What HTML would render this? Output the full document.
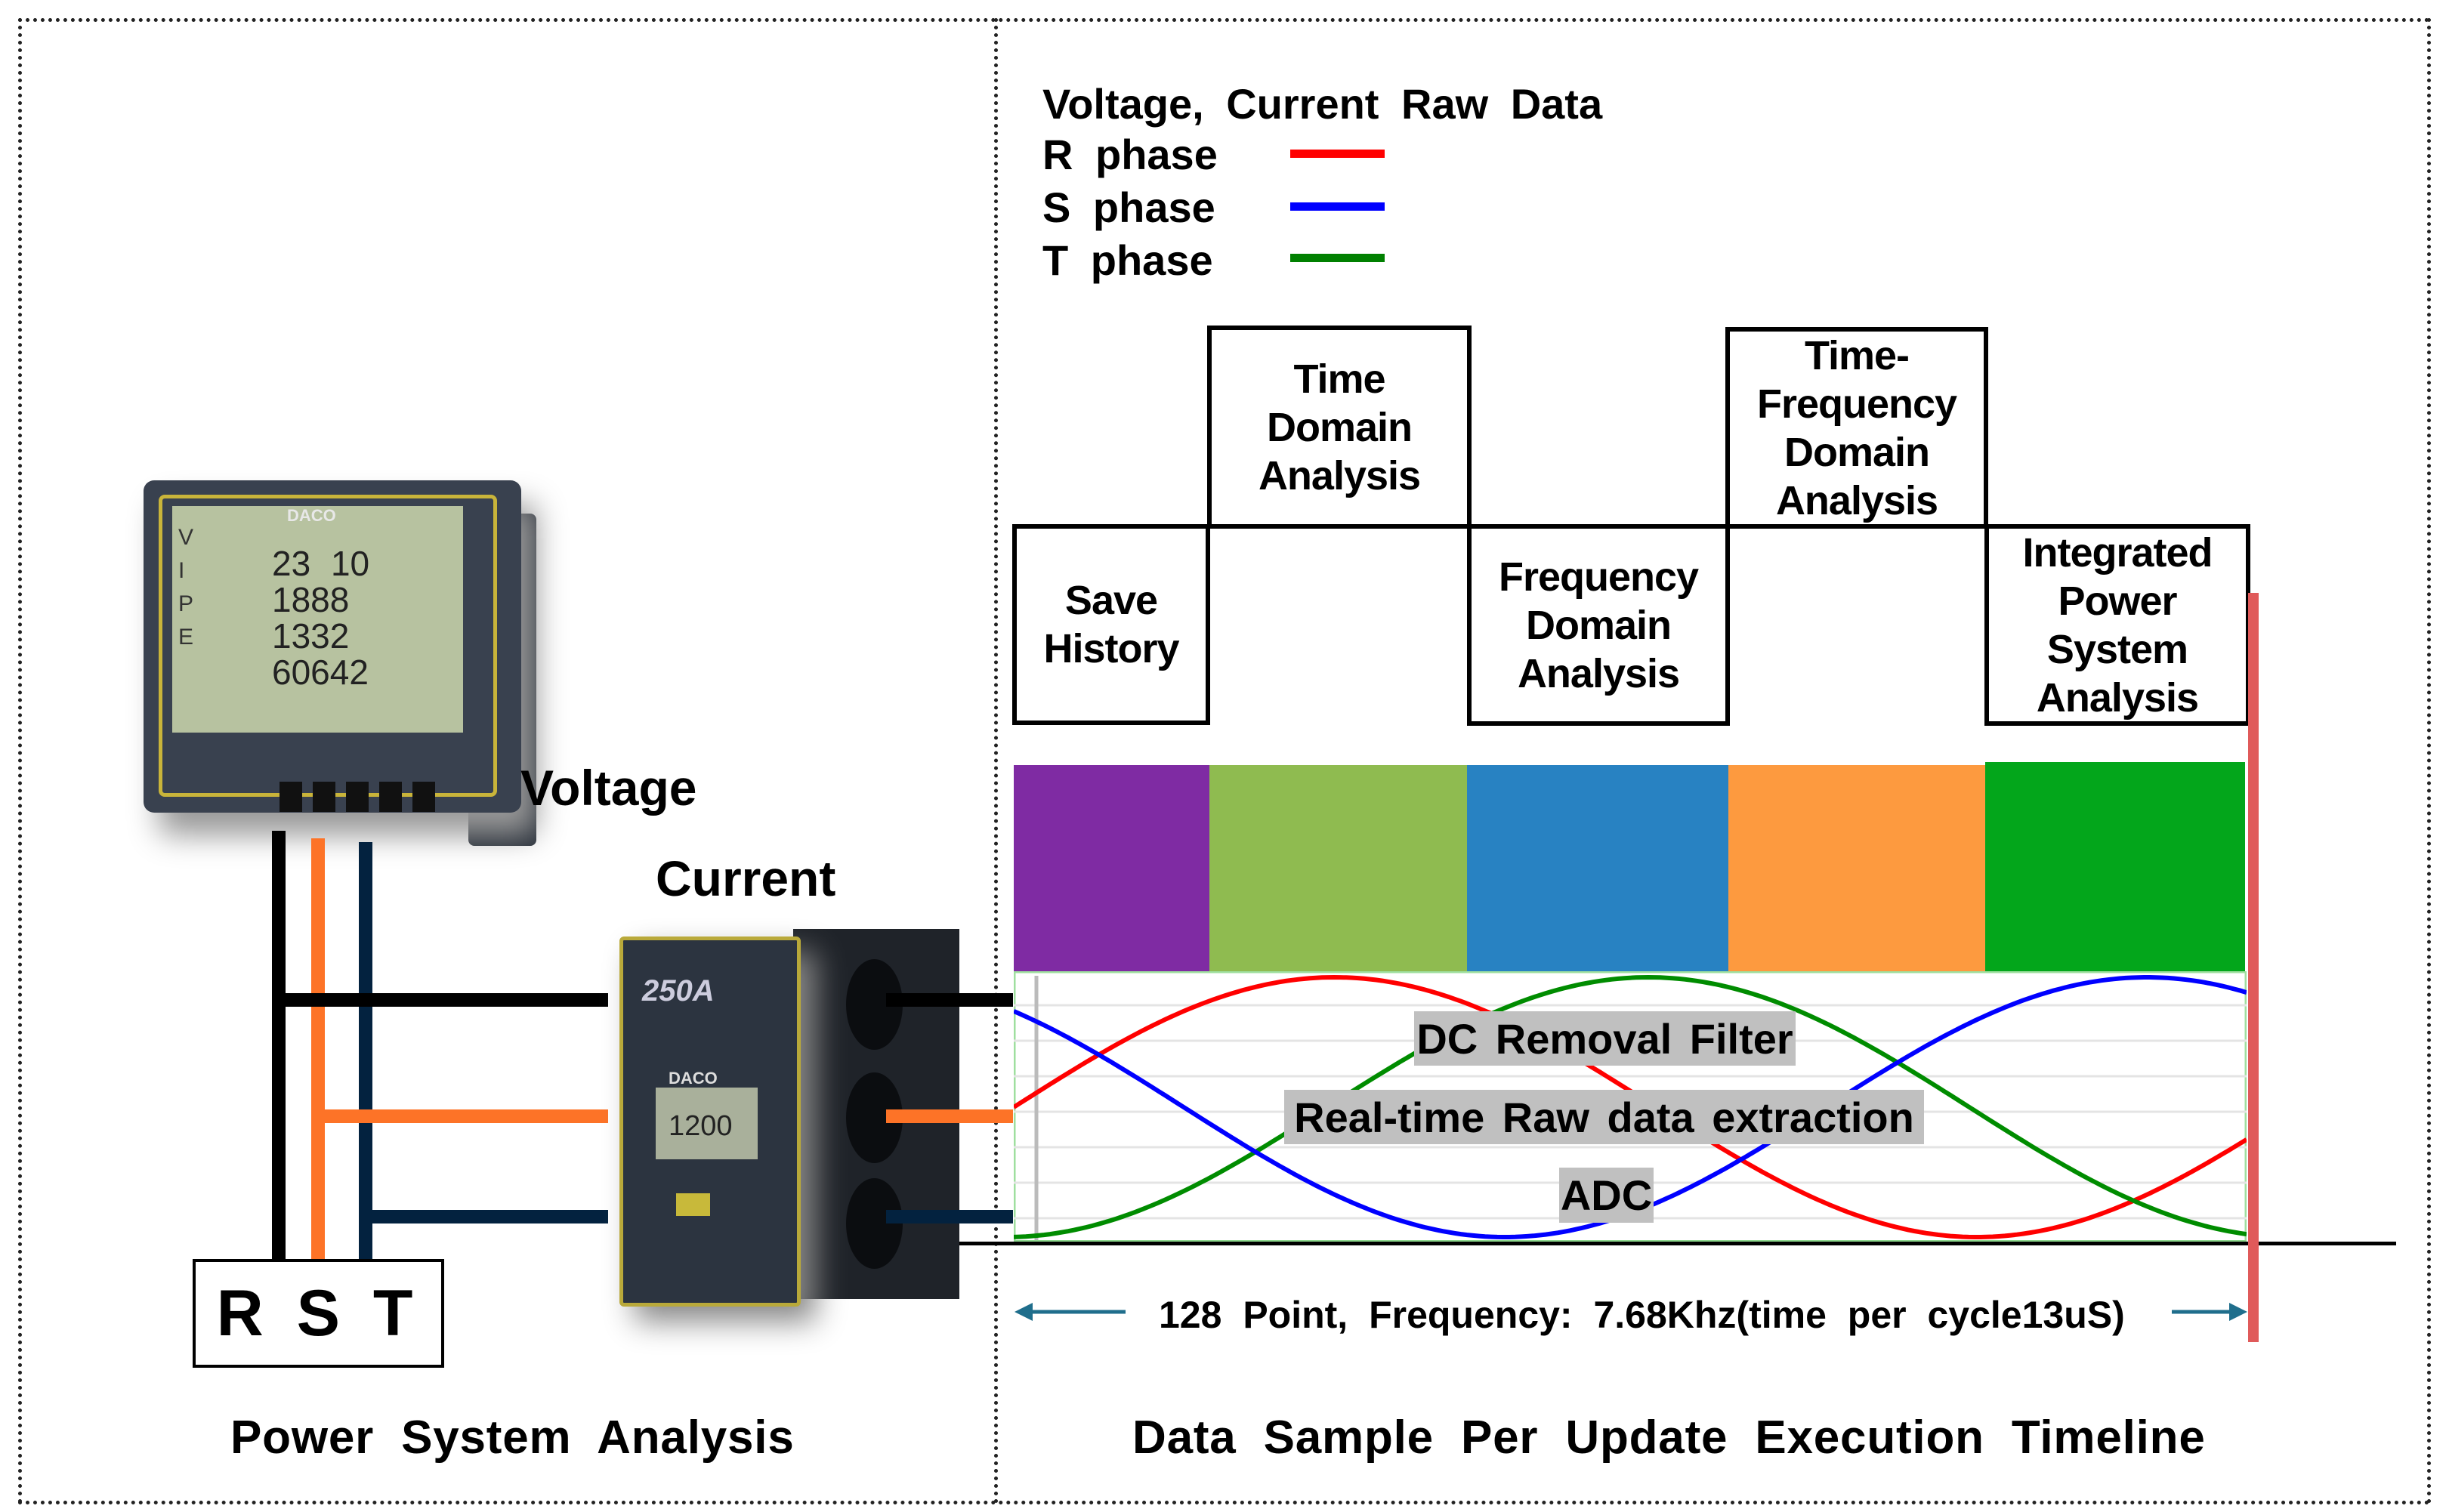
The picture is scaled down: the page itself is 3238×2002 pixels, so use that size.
<!DOCTYPE html>
<html><head><meta charset="utf-8"><style>
body{margin:0;width:3238px;height:2002px;background:#fff;position:relative;overflow:hidden;font-family:"Liberation Sans",sans-serif;font-weight:bold;color:#000}
.a{position:absolute}
.t{position:absolute;white-space:nowrap;word-spacing:14px}
.box{position:absolute;border:6px solid #000;box-sizing:border-box;display:flex;align-items:center;justify-content:center;text-align:center;font-size:54px;line-height:64px;letter-spacing:-1px}
.lbl{position:absolute;background:#c0c0c0;font-size:56px;display:flex;align-items:center;justify-content:center;word-spacing:8px}
</style></head><body>
<!-- borders -->
<div class="a" style="left:24px;top:24px;width:3194px;height:1968px;border:5px dotted #222;box-sizing:border-box"></div>
<div class="a" style="left:1316px;top:24px;width:0;height:1968px;border-left:5px dotted #222"></div>

<!-- legend -->
<div class="t" style="left:1380px;top:105px;font-size:56px">Voltage, Current Raw Data</div>
<div class="t" style="left:1380px;top:172px;font-size:56px">R phase</div>
<div class="t" style="left:1380px;top:242px;font-size:56px">S phase</div>
<div class="t" style="left:1380px;top:312px;font-size:56px">T phase</div>
<div class="a" style="left:1708px;top:198px;width:125px;height:11px;background:#f00"></div>
<div class="a" style="left:1708px;top:268px;width:125px;height:11px;background:#00f"></div>
<div class="a" style="left:1708px;top:336px;width:125px;height:11px;background:#008000"></div>

<!-- step boxes -->
<div class="box" style="left:1340px;top:694px;width:262px;height:266px">Save<br>History</div>
<div class="box" style="left:1598px;top:431px;width:350px;height:269px">Time<br>Domain<br>Analysis</div>
<div class="box" style="left:1942px;top:694px;width:348px;height:267px">Frequency<br>Domain<br>Analysis</div>
<div class="box" style="left:2284px;top:433px;width:348px;height:267px">Time-<br>Frequency<br>Domain<br>Analysis</div>
<div class="box" style="left:2627px;top:694px;width:352px;height:267px">Integrated<br>Power<br>System<br>Analysis</div>

<!-- colored bars -->
<div class="a" style="left:1342px;top:1013px;width:259px;height:273px;background:#7f2ba3"></div>
<div class="a" style="left:1601px;top:1013px;width:341px;height:273px;background:#8fbb50"></div>
<div class="a" style="left:1942px;top:1013px;width:346px;height:273px;background:#2882c2"></div>
<div class="a" style="left:2288px;top:1013px;width:340px;height:273px;background:#fd9a3f"></div>
<div class="a" style="left:2628px;top:1009px;width:344px;height:277px;background:#03a61b"></div>

<!-- wave area -->
<svg class="a" style="left:1342px;top:1286px" width="1632" height="364" viewBox="0 0 1632 364">
<rect x="1" y="1" width="1630" height="360" fill="#fff" stroke="#9fdf9f" stroke-width="3"/>
<g stroke="#e4e4e4" stroke-width="3">
<line x1="0" y1="45" x2="1632" y2="45"/><line x1="0" y1="92" x2="1632" y2="92"/><line x1="0" y1="139" x2="1632" y2="139"/><line x1="0" y1="186" x2="1632" y2="186"/><line x1="0" y1="233" x2="1632" y2="233"/><line x1="0" y1="280" x2="1632" y2="280"/><line x1="0" y1="327" x2="1632" y2="327"/>
</g>
<line x1="30" y1="6" x2="30" y2="358" stroke="#bbb" stroke-width="5"/>
<line x1="0" y1="359" x2="1632" y2="359" stroke="#8fd98f" stroke-width="6"/>
<path id="r" fill="none" stroke="#f00" stroke-width="6"/>
<path id="g" fill="none" stroke="#008c00" stroke-width="6"/>
<path id="b" fill="none" stroke="#00f" stroke-width="6"/>
</svg>
<script>
(function(){var P=1700,c=180,A=172;function mk(id,peak){var d="";for(var x=0;x<=1632;x+=8){var y=c-A*Math.cos(2*Math.PI*(x-peak)/P);d+=(x?"L":"M")+x+","+y.toFixed(1);}document.getElementById(id).setAttribute("d",d);}
mk("r",425);mk("g",840);mk("b",1500);})();
</script>
<div class="lbl" style="left:1872px;top:1339px;width:505px;height:72px">DC Removal Filter</div>
<div class="lbl" style="left:1700px;top:1443px;width:847px;height:72px">Real-time Raw data extraction</div>
<div class="lbl" style="left:2064px;top:1546px;width:125px;height:73px">ADC</div>

<!-- red bar and baseline -->
<div class="a" style="left:1256px;top:1644px;width:1916px;height:5px;background:#000"></div>
<div class="a" style="left:2976px;top:785px;width:14px;height:992px;background:#e05a5a"></div>

<!-- arrow row -->
<svg class="a" style="left:1335px;top:1715px" width="1660" height="45">
<line x1="20" y1="22" x2="155" y2="22" stroke="#1f6e8c" stroke-width="5"/>
<polygon points="8,22 32,10 32,34" fill="#1f6e8c"/>
<line x1="1540" y1="22" x2="1620" y2="22" stroke="#1f6e8c" stroke-width="5"/>
<polygon points="1640,22 1616,10 1616,34" fill="#1f6e8c"/>
</svg>
<div class="t" style="left:1534px;top:1712px;font-size:50px">128 Point, Frequency: 7.68Khz(time per cycle13uS)</div>

<!-- captions -->
<div class="t" style="left:305px;top:1868px;font-size:62px;letter-spacing:0.8px;word-spacing:18px">Power System Analysis</div>
<div class="t" style="left:1499px;top:1868px;font-size:62px;letter-spacing:0.8px;word-spacing:18px">Data Sample Per Update Execution Timeline</div>

<!-- meter -->
<div class="a" style="left:620px;top:680px;width:90px;height:440px;background:#2a313b;border-radius:8px"></div>
<div class="a" style="left:190px;top:636px;width:500px;height:440px;background:#39414f;border-radius:14px;box-shadow:20px 30px 40px #999"></div>
<div class="a" style="left:210px;top:655px;width:438px;height:390px;border:5px solid #c9b43a;border-radius:8px"></div>
<div class="a" style="left:228px;top:670px;width:385px;height:300px;background:#b7c2a0"></div>
<div class="t" style="left:380px;top:670px;font-size:22px;color:#e8e8e8">DACO</div>
<div class="t" style="left:236px;top:690px;font-size:30px;color:#333;font-weight:normal;line-height:44px">V<br>I<br>P<br>E</div>
<div class="t" style="left:360px;top:722px;font-size:46px;color:#222;font-weight:normal;line-height:48px">23 10<br>1888<br>1332<br>60642</div>
<div class="a" style="left:370px;top:1035px;width:220px;height:40px;display:flex;gap:14px">
<div style="width:30px;height:40px;background:#111"></div><div style="width:30px;height:40px;background:#111"></div><div style="width:30px;height:40px;background:#111"></div><div style="width:30px;height:40px;background:#111"></div><div style="width:30px;height:40px;background:#111"></div></div>
<div class="t" style="left:689px;top:1005px;font-size:66px">Voltage</div>
<div class="t" style="left:868px;top:1125px;font-size:66px">Current</div>

<!-- wires -->
<div class="a" style="left:360px;top:1100px;width:18px;height:570px;background:#000"></div>
<div class="a" style="left:412px;top:1110px;width:18px;height:560px;background:#fd7327"></div>
<div class="a" style="left:475px;top:1115px;width:18px;height:555px;background:#03223f"></div>
<div class="a" style="left:369px;top:1315px;width:436px;height:18px;background:#000"></div>
<div class="a" style="left:430px;top:1469px;width:375px;height:18px;background:#fd7327"></div>
<div class="a" style="left:493px;top:1602px;width:312px;height:18px;background:#03223f"></div>

<!-- current device -->
<div class="a" style="left:1050px;top:1230px;width:220px;height:490px;background:#1f2329"></div>
<div class="a" style="left:820px;top:1240px;width:240px;height:490px;background:#2c3440;border:5px solid #b9a93a;box-sizing:border-box;border-radius:6px;box-shadow:20px 20px 40px #888"></div>
<div class="t" style="left:850px;top:1290px;font-size:40px;color:#ccd;font-style:italic">250A</div>
<div class="t" style="left:885px;top:1415px;font-size:22px;color:#ddd">DACO</div>
<div class="a" style="left:868px;top:1440px;width:135px;height:95px;background:#a9b09b"></div>
<div class="t" style="left:885px;top:1470px;font-size:38px;color:#222;font-weight:normal">1200</div>
<div class="a" style="left:895px;top:1580px;width:45px;height:30px;background:#c8b93a"></div>
<div class="a" style="left:1120px;top:1270px;width:75px;height:120px;background:#0b0d10;border-radius:50%"></div>
<div class="a" style="left:1120px;top:1420px;width:75px;height:120px;background:#0b0d10;border-radius:50%"></div>
<div class="a" style="left:1120px;top:1560px;width:75px;height:120px;background:#0b0d10;border-radius:50%"></div>
<div class="a" style="left:1173px;top:1315px;width:168px;height:18px;background:#000"></div>
<div class="a" style="left:1173px;top:1469px;width:168px;height:18px;background:#fd7327"></div>
<div class="a" style="left:1173px;top:1602px;width:168px;height:18px;background:#03223f"></div>

<!-- RST -->
<div class="box" style="left:255px;top:1667px;width:333px;height:144px;border-width:4px;font-size:86px;letter-spacing:10px">R S T</div>
</body></html>
